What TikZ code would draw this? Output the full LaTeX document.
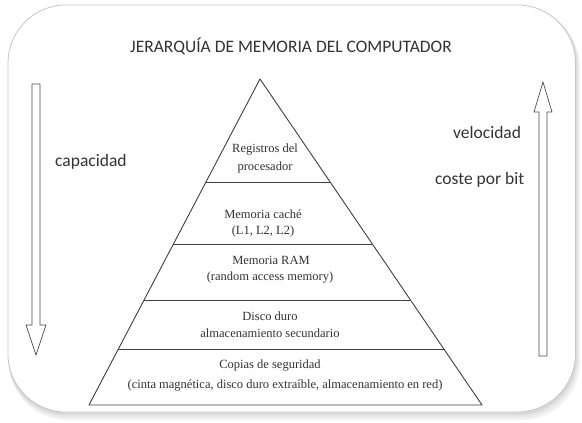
\documentclass[tikz,border=0pt]{standalone}
\usepackage{fontspec}
\setmainfont{Liberation Serif}
\newfontfamily\labelfont{Carlito}
\usetikzlibrary{calc}
\tikzset{
  sidelabel/.style={font=\labelfont\fontsize{17.5}{20}\selectfont, text=black!80, inner sep=0pt, anchor=west},
  tiertext/.style={font=\fontsize{12.5}{15}\selectfont, text=black!80, inner sep=0pt},
  pyrline/.style={draw=black!75, line width=0.9pt},
  blockarrow/.style={draw=black!70, line width=0.7pt, fill=white, line join=miter},
}
\begin{document}
\begin{tikzpicture}[x=1pt,y=-1pt]
\useasboundingbox (0,0) rectangle (582,423);
% frame with soft shadow
\fill[black!5, rounded corners=58pt] (9,9) rectangle (580,420);
\fill[black!9, rounded corners=58pt] (8.5,7.5) rectangle (578.5,417.5);
\fill[black!15, rounded corners=58pt] (8,6) rectangle (577,415);
\filldraw[fill=white, draw=black!22, line width=0.8pt, rounded corners=58pt] (8,5) rectangle (575.5,412);

% title
\node[font=\labelfont\fontsize{17.5}{20}\selectfont, text=black!80, inner sep=0pt] (title) at (291,46) {JERARQUÍA DE MEMORIA DEL COMPUTADOR};

% side labels
\node[sidelabel] (cap) at (55,162) {capacidad};
\node[sidelabel] (vel) at (453,132) {velocidad};
\node[sidelabel] (cost) at (435,180) {coste por bit};

% left block arrow (down)
\draw[blockarrow] (32,84) -- (40,84) -- (40,325) -- (46,325) -- (36,355) -- (26,325) -- (32,325) -- cycle;
% right block arrow (up)
\draw[blockarrow] (539,356) -- (547,356) -- (547,112) -- (552,112) -- (543,82) -- (534,112) -- (539,112) -- cycle;

% pyramid
\coordinate (apex) at (260,79);
\coordinate (bl) at (89,405);
\coordinate (br) at (482,405);
\draw[pyrline, line join=round] (bl) -- (apex) -- (br) -- cycle;
\coordinate (l1) at ($(apex)!0.31595!(bl)$);
\coordinate (r1) at ($(apex)!0.31595!(br)$);
\coordinate (l2) at ($(apex)!0.50613!(bl)$);
\coordinate (r2) at ($(apex)!0.50613!(br)$);
\coordinate (l3) at ($(apex)!0.67791!(bl)$);
\coordinate (r3) at ($(apex)!0.67791!(br)$);
\coordinate (l4) at ($(apex)!0.82822!(bl)$);
\coordinate (r4) at ($(apex)!0.82822!(br)$);
\draw[pyrline] (l1) -- (r1);
\draw[pyrline] (l2) -- (r2);
\draw[pyrline] (l3) -- (r3);
\draw[pyrline] (l4) -- (r4);

% tier texts
\node[tiertext] (t1a) at (265,150) {Registros del};
\node[tiertext] (t1b) at (265,167) {procesador};
\node[tiertext] (t2a) at (263,214) {Memoria caché};
\node[tiertext] (t2b) at (263,231) {(L1, L2, L2)};
\node[tiertext] (t3a) at (271,260) {Memoria RAM};
\node[tiertext] (t3b) at (270,278) {(random access memory)};
\node[tiertext] (t4a) at (270,316) {Disco duro};
\node[tiertext] (t4b) at (270,333) {almacenamiento secundario};
\node[tiertext] (t5a) at (270,366) {Copias de seguridad};
\node[tiertext] (t5b) at (285,386) {(cinta magnética, disco duro extraíble, almacenamiento en red)};
\end{tikzpicture}
\end{document}
